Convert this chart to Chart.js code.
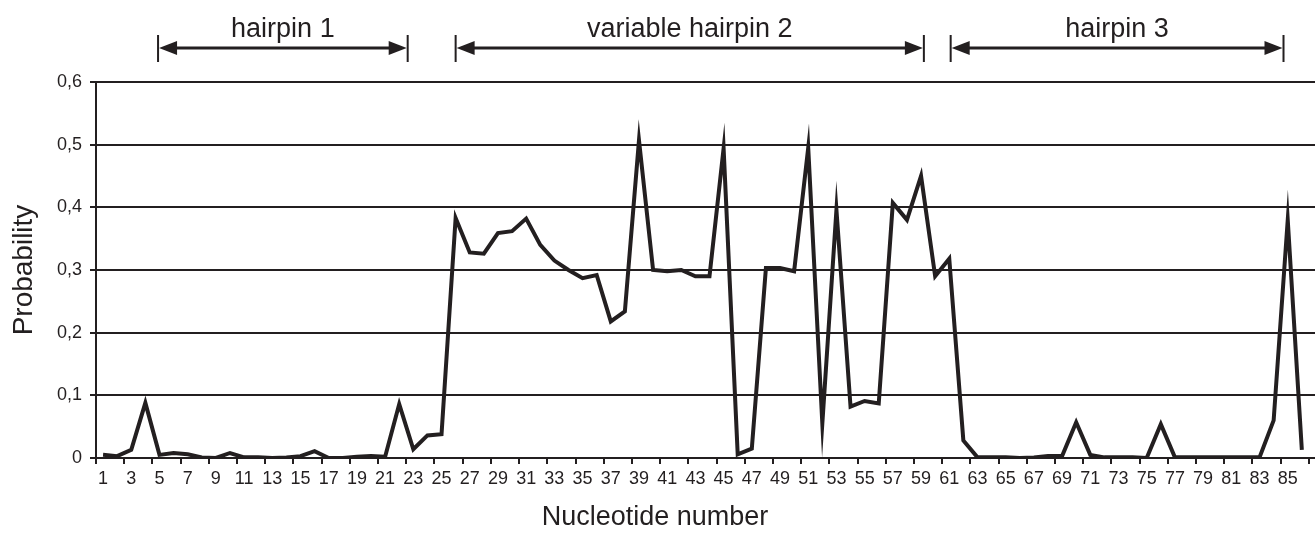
<!DOCTYPE html>
<html>
<head>
<meta charset="utf-8">
<script src="https://cdn.jsdelivr.net/npm/chart.js@4.4.1/dist/chart.umd.min.js"></script>
<style>
  html, body { margin: 0; padding: 0; background: #fff; overflow: hidden; }
  #wrap { width: 1315px; height: 547px; overflow: hidden; }
  canvas { display: block; }
</style>
</head>
<body>
<div id="wrap"><canvas id="chart" width="1323" height="547"></canvas></div>
<script>
const INK = '#231f20';
const FONT = '"Liberation Sans", Arial, sans-serif';

const nucleotides = [
    1, 2, 3, 4, 5, 6, 7, 8, 9, 10, 11, 12, 13, 14, 15, 16, 17, 18, 19, 20,
    21, 22, 23, 24, 25, 26, 27, 28, 29, 30, 31, 32, 33, 34, 35, 36, 37, 38, 39, 40,
    41, 42, 43, 44, 45, 46, 47, 48, 49, 50, 51, 52, 53, 54, 55, 56, 57, 58, 59, 60,
    61, 62, 63, 64, 65, 66, 67, 68, 69, 70, 71, 72, 73, 74, 75, 76, 77, 78, 79, 80,
    81, 82, 83, 84, 85, 86
];

const probability = [
    0.005, 0.003, 0.013, 0.088, 0.005, 0.008, 0.006, 0.001, 0.000, 0.008,
    0.001, 0.001, 0.000, 0.001, 0.003, 0.011, 0.000, 0.000, 0.002, 0.003,
    0.002, 0.086, 0.014, 0.036, 0.038, 0.383, 0.328, 0.326, 0.359, 0.362,
    0.382, 0.340, 0.315, 0.300, 0.287, 0.292, 0.218, 0.234, 0.507, 0.300,
    0.298, 0.300, 0.290, 0.290, 0.494, 0.006, 0.015, 0.303, 0.303, 0.298,
    0.495, 0.055, 0.396, 0.082, 0.091, 0.087, 0.407, 0.380, 0.450, 0.290,
    0.318, 0.028, 0.001, 0.001, 0.001, 0.000, 0.001, 0.003, 0.003, 0.057,
    0.005, 0.001, 0.001, 0.001, 0.000, 0.054, 0.001, 0.001, 0.001, 0.001,
    0.001, 0.001, 0.001, 0.060, 0.380, 0.013
];

// the original axis runs one empty slot past the last nucleotide
const xLabels = nucleotides.concat(['']);
const yTicks = [0, 0.1, 0.2, 0.3, 0.4, 0.5, 0.6];

const xTitle = 'Nucleotide number';
const yTitle = 'Probability';

// hairpin spans, in nucleotide positions
const regions = [
    { label: 'hairpin 1', from: 4.9, to: 22.6 },
    { label: 'variable hairpin 2', from: 26.0, to: 59.2 },
    { label: 'hairpin 3', from: 61.1, to: 84.7 }
];

const miterPlugin = {
    id: 'miter',
    beforeDatasetsDraw(chart) {
        chart.ctx.miterLimit = 40;
    }
};

function arrowHead(ctx, tipX, y, dir) {
    ctx.beginPath();
    ctx.moveTo(tipX, y);
    ctx.lineTo(tipX + dir * 18, y - 7);
    ctx.lineTo(tipX + dir * 18, y + 7);
    ctx.closePath();
    ctx.fill();
}

const labelsPlugin = {
    id: 'labels',
    afterDraw(chart) {
        const ctx = chart.ctx;
        const x = chart.scales.x;
        const top = chart.chartArea.top;
        ctx.save();
        ctx.strokeStyle = INK;
        ctx.fillStyle = INK;
        regions.forEach(r => {
            const x1 = x.getPixelForValue(r.from - 1);
            const x2 = x.getPixelForValue(r.to - 1);
            const yArrow = top - 34;
            ctx.lineWidth = 2;
            ctx.beginPath();
            ctx.moveTo(x1, top - 47); ctx.lineTo(x1, top - 20);
            ctx.moveTo(x2, top - 47); ctx.lineTo(x2, top - 20);
            ctx.stroke();
            ctx.lineWidth = 3;
            ctx.beginPath();
            ctx.moveTo(x1 + 12, yArrow); ctx.lineTo(x2 - 12, yArrow);
            ctx.stroke();
            arrowHead(ctx, x1 + 1, yArrow, 1);
            arrowHead(ctx, x2 - 1, yArrow, -1);
            ctx.font = '27px ' + FONT;
            ctx.textAlign = 'center';
            ctx.textBaseline = 'alphabetic';
            ctx.fillText(r.label, (x1 + x2) / 2, top - 45);
        });
        ctx.font = '27px ' + FONT;
        ctx.textAlign = 'center';
        ctx.textBaseline = 'alphabetic';
        ctx.fillText(xTitle, 655, chart.chartArea.bottom + 67);
        ctx.restore();
    }
};

const ctx = document.getElementById('chart').getContext('2d');
new Chart(ctx, {
    type: 'line',
    data: {
        labels: xLabels,
        datasets: [{
            data: probability,
            borderColor: INK,
            borderWidth: 4,
            borderJoinStyle: 'miter',
            pointRadius: 0,
            tension: 0,
            fill: false
        }]
    },
    options: {
        responsive: false,
        animation: false,
        devicePixelRatio: 1,
        layout: { padding: { top: 82, right: 0, bottom: 0, left: 0 } },
        plugins: {
            legend: { display: false },
            tooltip: { enabled: false }
        },
        scales: {
            x: {
                type: 'category',
                offset: true,
                grid: {
                    offset: true,
                    drawOnChartArea: false,
                    tickLength: 6,
                    lineWidth: 2,
                    tickWidth: 2,
                    tickColor: c => (c.index % 2 === 0 ? INK : 'rgba(0,0,0,0)')
                },
                border: { display: true, color: INK, width: 2 },
                ticks: {
                    autoSkip: false,
                    maxRotation: 0,
                    minRotation: 0,
                    padding: 4,
                    color: INK,
                    font: { family: FONT, size: 18 },
                    callback: function (v, i) {
                        return i % 2 === 0 ? this.getLabelForValue(v) : '';
                    }
                },
                afterFit: s => { s.height = 89; }
            },
            y: {
                min: 0,
                max: 0.6,
                afterBuildTicks: s => { s.ticks = yTicks.map(v => ({ value: v })); },
                grid: { color: INK, lineWidth: 2, tickLength: 6, tickColor: INK },
                border: { display: true, color: INK, width: 2 },
                ticks: {
                    padding: 8,
                    color: INK,
                    font: { family: FONT, size: 18 },
                    callback: v => (v === 0 ? '0' : v.toFixed(1).replace('.', ','))
                },
                title: {
                    display: true,
                    text: yTitle,
                    color: INK,
                    font: { family: FONT, size: 28 },
                    padding: { top: 7, bottom: 0 }
                },
                afterFit: s => { s.width = 96; }
            }
        }
    },
    plugins: [miterPlugin, labelsPlugin]
});
</script>
</body>
</html>
